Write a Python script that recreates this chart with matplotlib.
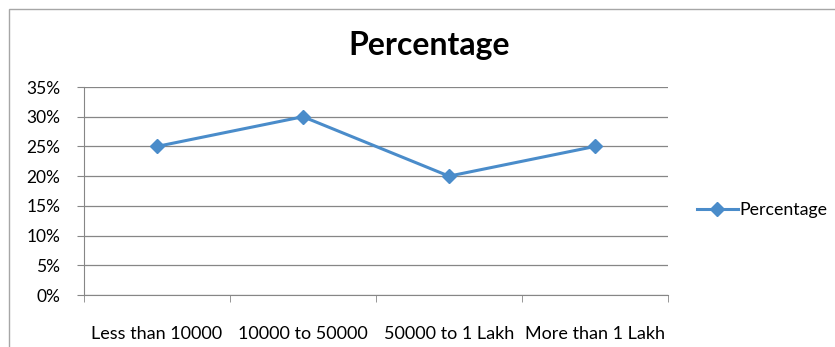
import matplotlib.pyplot as plt
import numpy as np
from matplotlib.patches import Rectangle

categories = ['Less than 10000', '10000 to 50000', '50000 to 1 Lakh', 'More than 1 Lakh']
percentage = [0.25, 0.30, 0.20, 0.25]
yticks = [0, 0.05, 0.10, 0.15, 0.20, 0.25, 0.30, 0.35]

plt.rcParams['font.family'] = ['Lato', 'DejaVu Sans']

W, H = 835, 347
fig = plt.figure(figsize=(W / 100, H / 100), dpi=100)

# outer chart border
fig.patches.append(Rectangle((9 / W, -0.1), 1.2, 1 - 9 / H + 0.1, transform=fig.transFigure,
                             fill=False, edgecolor='#a6a6a6', linewidth=1))

ax = fig.add_axes([84 / W, 1 - 295 / H, (668 - 84) / W, (295 - 87) / H])

x = np.arange(len(categories))
blue = '#4a8cca'
ax.plot(x, percentage, color=blue, linewidth=2.2, marker='D', markersize=7,
        label='Percentage')

ax.set_xlim(-0.5, len(categories) - 0.5)
ax.set_ylim(0, 0.35)
ax.set_yticks(yticks)
ax.set_yticklabels(['{:d}%'.format(int(round(v * 100))) for v in yticks], fontsize=12.5)
ax.set_xticks(x)
ax.set_xticklabels(categories, fontsize=13)
ax.set_xticks(np.arange(len(categories) + 1) - 0.5, minor=True)
ax.tick_params(axis='x', which='major', length=0, pad=22)
ax.tick_params(axis='x', which='minor', length=5, color='#868686', direction='out')
ax.tick_params(axis='y', length=5, color='#868686', pad=12)

ax.grid(True, axis='y', color='#868686', linewidth=0.9)
ax.set_axisbelow(True)
for side in ['top', 'right']:
    ax.spines[side].set_visible(False)
for side in ['left', 'bottom']:
    ax.spines[side].set_color('#868686')

fig.text(429 / W, 1 - 45 / H, 'Percentage', ha='center', va='center',
         fontsize=23, fontweight='bold')

ax.legend(loc='center left', bbox_to_anchor=(697 / W, 1 - 210 / H),
          bbox_transform=fig.transFigure, frameon=False, fontsize=12.8,
          handlelength=2.3, handletextpad=0.1, borderaxespad=0,
          borderpad=0)

fig.savefig('out.png', dpi=100)
